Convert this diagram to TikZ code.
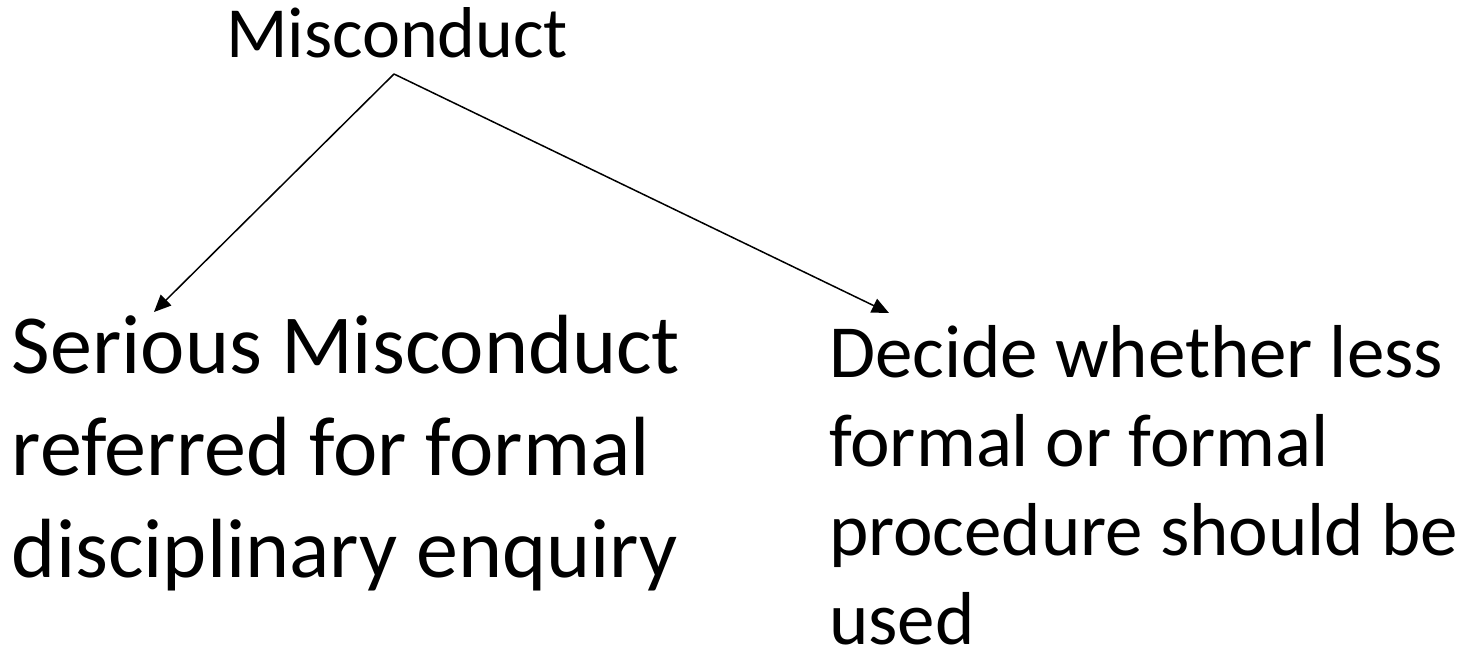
\documentclass[tikz,border=0pt]{standalone}
\usepackage{fontspec}
\setmainfont{Carlito}
\usetikzlibrary{arrows.meta}
\begin{document}
\begin{tikzpicture}[x=1pt,y=-1pt,
  txt/.style={anchor=base west,inner sep=0pt,outer sep=0pt},
  big/.style={txt,font=\fontsize{84}{102}\selectfont},
  mid/.style={txt,font=\fontsize{75}{91}\selectfont},
  top/.style={txt,font=\fontsize{72}{88}\selectfont},
  conn/.style={line width=1.5pt,-{Triangle[length=17pt,width=15pt]}}]
\useasboundingbox (0,0) rectangle (1460,651);
\node[top] (mis) at (226,57) {Misconduct};
\node[big] (l1) at (12,373) {Serious Misconduct};
\node[big] (l2) at (12,475) {referred for formal};
\node[big] (l3) at (12,577) {disciplinary enquiry};
\node[mid] (r1) at (829,377) {Decide whether less};
\node[mid] (r2) at (829,466) {formal or formal};
\node[mid] (r3) at (829,555) {procedure should be};
\node[mid] (r4) at (829,644) {used};
\coordinate (apex) at (394,74);
\coordinate (lend) at (154,312);
\coordinate (rend) at (889,313);
\draw[conn] (apex) -- (lend);
\draw[conn] (apex) -- (rend);
\end{tikzpicture}
\end{document}
